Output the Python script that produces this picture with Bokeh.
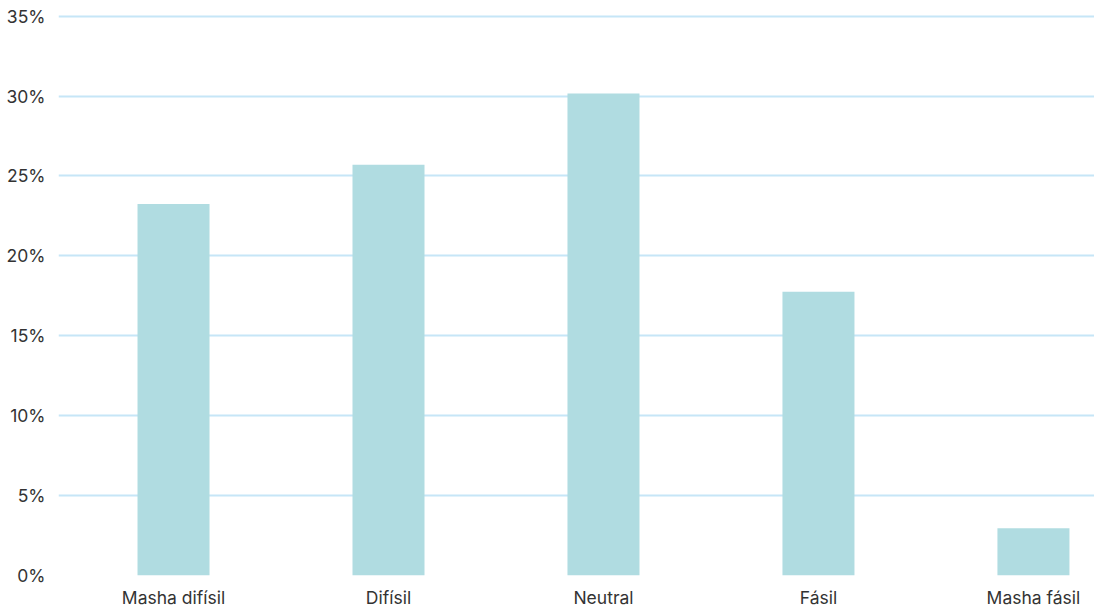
from bokeh.plotting import figure
from bokeh.models import Range1d, FixedTicker, PrintfTickFormatter
from bokeh.embed import file_html
from bokeh.resources import INLINE

categories = ["Masha difísil", "Difísil", "Neutral", "Fásil", "Masha fásil"]
values = [23.25, 25.7, 30.15, 17.75, 2.95]
y_ticks = [0, 5, 10, 15, 20, 25, 30, 35]

positions = [i + 0.5 for i in range(len(categories))]

p = figure(width=1094, height=610, output_backend="svg", toolbar_location=None,
           x_range=Range1d(-0.035, 4.784), y_range=Range1d(0, 35.1),
           min_border_left=58, min_border_right=0, min_border_top=14, min_border_bottom=34)
p.outline_line_color = None
p.background_fill_color = "white"
p.border_fill_color = "white"

p.vbar(x=positions, top=values, width=0.335, bottom=0, color="#b0dce1", line_color=None)

font = "Inter"
p.xaxis.ticker = FixedTicker(ticks=positions)
p.xaxis.major_label_overrides = {pos: c for pos, c in zip(positions, categories)}
p.yaxis.ticker = FixedTicker(ticks=y_ticks)
p.yaxis.formatter = PrintfTickFormatter(format="%d%%")
for ax in (p.xaxis, p.yaxis):
    ax.axis_line_color = None
    ax.major_tick_line_color = None
    ax.minor_tick_line_color = None
    ax.major_tick_out = 0
    ax.major_tick_in = 0
    ax.minor_tick_out = 0
    ax.minor_tick_in = 0
    ax.major_label_text_font = font
    ax.major_label_text_font_size = "17.5px"
    ax.major_label_text_color = "#333333"
p.xaxis.major_label_standoff = 11
p.yaxis.major_label_standoff = 13

p.xgrid.grid_line_color = None
p.ygrid.ticker = FixedTicker(ticks=y_ticks)
p.ygrid.grid_line_color = "#c6e6f7"
p.ygrid.grid_line_width = 2

open("out.html", "w").write(file_html(p, INLINE))
